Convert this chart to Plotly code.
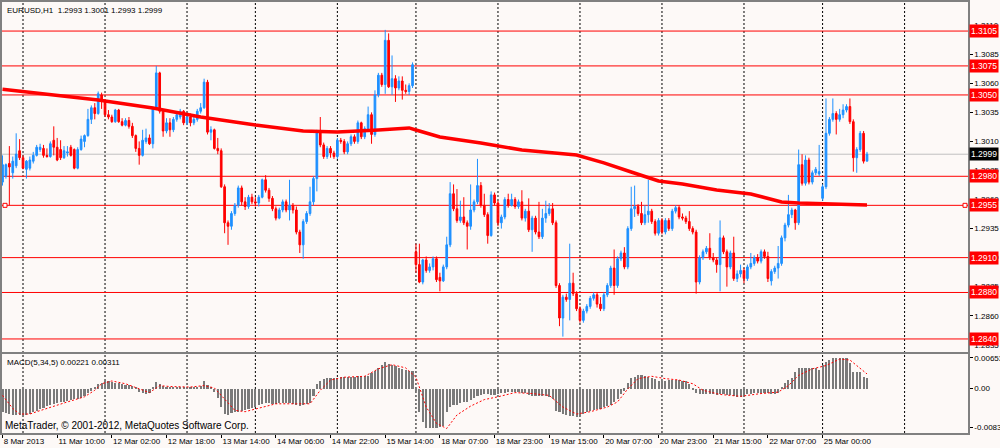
import plotly.graph_objects as go

# ---------------- data ----------------
opens = [1.2975,1.2980,1.2991,1.2983,1.2989,1.3002,1.2996,1.2986,1.2987,1.2993,
1.2998,1.3003,1.3004,1.2998,1.2997,1.3011,1.3005,1.3003,1.2996,1.3000,
1.3005,1.3003,1.2987,1.3003,1.3010,1.3015,1.3029,1.3039,1.3034,1.3050,
1.3045,1.3033,1.3031,1.3027,1.3037,1.3027,1.3024,1.3028,1.3023,1.3015,
1.3004,1.2998,1.3010,1.3013,1.3008,1.3038,1.3069,1.3036,1.3019,1.3026,
1.3020,1.3029,1.3031,1.3036,1.3026,1.3031,1.3026,1.3029,1.3036,1.3039,
1.3061,1.3018,1.3020,1.3004,1.3002,1.2971,1.2940,1.2937,1.2948,1.2955,
1.2970,1.2958,1.2954,1.2962,1.2958,1.2957,1.2962,1.2977,1.2968,1.2961,
1.2952,1.2944,1.2951,1.2958,1.2951,1.2955,1.2951,1.2932,1.2921,1.2941,
1.2948,1.2958,1.2978,1.3018,1.3007,1.2997,1.3004,1.3000,1.2997,1.3011,
1.3010,1.3001,1.3008,1.3014,1.3010,1.3026,1.3014,1.3021,1.3033,1.3016,
1.3050,1.3067,1.3059,1.3097,1.3057,1.3064,1.3056,1.3062,1.3054,1.3053,
1.3058,1.2915,1.2904,1.2889,1.2908,1.2899,1.2902,1.2909,1.2893,1.2890,
1.2902,1.2921,1.2965,1.2952,1.2942,1.2945,1.2940,1.2937,1.2951,1.2958,
1.2972,1.2955,1.2947,1.2929,1.2964,1.2957,1.2940,1.2945,1.2960,1.2955,
1.2960,1.2954,1.2958,1.2944,1.2950,1.2934,1.2944,1.2932,1.2928,1.2944,
1.2948,1.2952,1.2940,1.2886,1.2858,1.2876,1.2874,1.2888,1.2879,1.2866,
1.2856,1.2864,1.2868,1.2875,1.2878,1.2870,1.2866,1.2878,1.2886,1.2901,
1.2886,1.2909,1.2914,1.2902,1.2935,1.2952,1.2954,1.2948,1.2940,1.2947,
1.2950,1.2941,1.2931,1.2942,1.2932,1.2942,1.2935,1.2950,1.2953,1.2945,
1.2944,1.2941,1.2935,1.2932,1.2889,1.2910,1.2915,1.2918,1.2910,1.2908,
1.2904,1.2927,1.2915,1.2902,1.2914,1.2892,1.2896,1.2899,1.2892,1.2902,
1.2905,1.2910,1.2907,1.2915,1.2911,1.2890,1.2898,1.2901,1.2905,1.2927,
1.2938,1.2947,1.2951,1.2940,1.2990,1.2974,1.2994,1.2975,1.2983,1.2982,
1.2961,1.2971,1.3017,1.3029,1.3034,1.3029,1.3033,1.3037,1.3040,1.3027,
1.2996,1.3003,1.3017,1.2993]
highs = [1.2998,1.2991,1.3006,1.2997,1.3017,1.3012,1.2998,1.2994,1.2997,1.3001,
1.3007,1.3008,1.3007,1.3004,1.3010,1.3023,1.3013,1.3011,1.3006,1.3006,
1.3007,1.3004,1.3005,1.3015,1.3016,1.3038,1.3041,1.3043,1.3053,1.3052,
1.3046,1.3037,1.3033,1.3038,1.3038,1.3030,1.3030,1.3031,1.3026,1.3016,
1.3010,1.3020,1.3021,1.3016,1.3040,1.3075,1.3070,1.3037,1.3030,1.3030,
1.3031,1.3035,1.3038,1.3037,1.3034,1.3034,1.3033,1.3038,1.3043,1.3064,
1.3063,1.3023,1.3021,1.3013,1.3004,1.2973,1.2942,1.2950,1.2957,1.2972,
1.2972,1.2962,1.2964,1.2965,1.2962,1.2964,1.2978,1.2981,1.2970,1.2963,
1.2954,1.2953,1.2960,1.2960,1.2977,1.2957,1.2954,1.2934,1.2943,1.2950,
1.2971,1.2980,1.3020,1.3031,1.3009,1.3006,1.3006,1.3002,1.3013,1.3013,
1.3012,1.3010,1.3016,1.3016,1.3028,1.3027,1.3023,1.3040,1.3035,1.3054,
1.3069,1.3069,1.3106,1.3103,1.3084,1.3067,1.3066,1.3066,1.3059,1.3060,
1.3078,1.2922,1.2922,1.2909,1.2911,1.2905,1.2911,1.2911,1.2897,1.2904,
1.2928,1.2975,1.2973,1.2969,1.2959,1.2962,1.2942,1.2973,1.2960,1.2995,
1.2975,1.2965,1.2949,1.2967,1.2966,1.2959,1.2947,1.2962,1.2965,1.2965,
1.2962,1.2960,1.2968,1.2952,1.2961,1.2946,1.2946,1.2958,1.2952,1.2959,
1.2957,1.2957,1.2942,1.2888,1.2878,1.2879,1.2922,1.2897,1.2881,1.2868,
1.2866,1.2870,1.2877,1.2880,1.2880,1.2876,1.2880,1.2888,1.2903,1.2917,
1.2911,1.2916,1.2919,1.2937,1.2971,1.2972,1.2956,1.2958,1.2955,1.2977,
1.2952,1.2943,1.2944,1.2944,1.2944,1.2944,1.2952,1.2955,1.2955,1.2948,
1.2946,1.2950,1.2937,1.2934,1.2912,1.2917,1.2920,1.2931,1.2914,1.2910,
1.2942,1.2929,1.2917,1.2916,1.2928,1.2899,1.2904,1.2901,1.2904,1.2914,
1.2912,1.2913,1.2917,1.2917,1.2915,1.2900,1.2903,1.2920,1.2929,1.2940,
1.2964,1.2953,1.2952,1.3003,1.2999,1.2998,1.2996,1.2985,1.2988,1.3007,
1.2973,1.3047,1.3031,1.3047,1.3036,1.3038,1.3042,1.3042,1.3047,1.3029,
1.3005,1.3019,1.3019,1.3001]
lows = [1.2972,1.2978,1.2955,1.2978,1.2987,1.2994,1.2986,1.2978,1.2985,1.2991,
1.2997,1.3001,1.2996,1.2996,1.2996,1.2998,1.2993,1.2994,1.2995,1.2997,
1.2997,1.2986,1.2986,1.3002,1.3005,1.3014,1.3025,1.3029,1.3033,1.3038,
1.3031,1.3029,1.3026,1.3026,1.3026,1.3023,1.3023,1.3021,1.3013,1.3001,
1.2990,1.2997,1.3008,1.3007,1.3004,1.3037,1.3034,1.3014,1.3017,1.3014,
1.3018,1.3027,1.3029,1.3024,1.3024,1.3023,1.3024,1.3027,1.3034,1.3038,
1.3016,1.3011,1.3003,1.2999,1.2970,1.2931,1.2921,1.2934,1.2946,1.2953,
1.2955,1.2951,1.2952,1.2956,1.2954,1.2954,1.2961,1.2966,1.2958,1.2950,
1.2942,1.2943,1.2949,1.2949,1.2942,1.2948,1.2930,1.2914,1.2909,1.2939,
1.2946,1.2955,1.2967,1.3005,1.2995,1.2995,1.2996,1.2995,1.2995,1.3008,
1.2999,1.2999,1.3006,1.3008,1.3008,1.3012,1.3012,1.3019,1.3008,1.3014,
1.3048,1.3057,1.3051,1.3056,1.3050,1.3044,1.3054,1.3046,1.3051,1.3050,
1.3056,1.2897,1.2888,1.2887,1.2897,1.2897,1.2899,1.2889,1.2881,1.2889,
1.2900,1.2919,1.2950,1.2940,1.2940,1.2938,1.2917,1.2934,1.2949,1.2956,
1.2953,1.2945,1.2922,1.2928,1.2955,1.2937,1.2935,1.2943,1.2953,1.2954,
1.2952,1.2952,1.2942,1.2941,1.2932,1.2915,1.2930,1.2926,1.2926,1.2940,
1.2946,1.2938,1.2884,1.2851,1.2842,1.2872,1.2856,1.2877,1.2864,1.2854,
1.2854,1.2862,1.2866,1.2873,1.2867,1.2864,1.2864,1.2876,1.2884,1.2878,
1.2884,1.2907,1.2900,1.2900,1.2933,1.2945,1.2946,1.2938,1.2938,1.2940,
1.2939,1.2929,1.2929,1.2930,1.2930,1.2933,1.2933,1.2948,1.2943,1.2942,
1.2939,1.2933,1.2930,1.2879,1.2887,1.2908,1.2913,1.2908,1.2906,1.2897,
1.2881,1.2913,1.2885,1.2900,1.2890,1.2889,1.2893,1.2888,1.2890,1.2900,
1.2903,1.2905,1.2905,1.2909,1.2889,1.2886,1.2896,1.2892,1.2903,1.2924,
1.2936,1.2944,1.2934,1.2938,1.2972,1.2972,1.2973,1.2973,1.2981,1.2980,
1.2959,1.2969,1.3015,1.3027,1.3016,1.3027,1.3030,1.3035,1.3025,1.2984,
1.2983,1.3001,1.2991,1.2993]
closes = [1.2990,1.2990,1.2988,1.2993,1.2999,1.2996,1.2987,1.2993,1.2994,1.2998,
1.3005,1.3005,1.2998,1.2997,1.3008,1.3005,1.2994,1.2996,1.3002,1.3001,
1.2998,1.2987,1.3003,1.3012,1.3015,1.3029,1.3039,1.3034,1.3051,1.3045,
1.3033,1.3031,1.3027,1.3037,1.3027,1.3024,1.3028,1.3023,1.3015,1.3004,
1.2998,1.3011,1.3013,1.3008,1.3038,1.3069,1.3036,1.3019,1.3026,1.3020,
1.3029,1.3033,1.3036,1.3026,1.3031,1.3026,1.3029,1.3036,1.3039,1.3061,
1.3018,1.3020,1.3004,1.3002,1.2971,1.2940,1.2937,1.2948,1.2955,1.2970,
1.2958,1.2954,1.2962,1.2958,1.2957,1.2962,1.2977,1.2968,1.2961,1.2952,
1.2944,1.2951,1.2958,1.2951,1.2955,1.2951,1.2932,1.2921,1.2941,1.2948,
1.2958,1.2978,1.3018,1.3007,1.2997,1.3004,1.3000,1.2997,1.3011,1.3010,
1.3001,1.3008,1.3014,1.3010,1.3026,1.3014,1.3021,1.3033,1.3016,1.3050,
1.3067,1.3059,1.3097,1.3057,1.3064,1.3056,1.3062,1.3054,1.3053,1.3058,
1.3076,1.2904,1.2889,1.2908,1.2899,1.2902,1.2909,1.2891,1.2890,1.2902,
1.2921,1.2965,1.2952,1.2942,1.2945,1.2940,1.2937,1.2951,1.2958,1.2972,
1.2955,1.2947,1.2929,1.2964,1.2957,1.2940,1.2945,1.2960,1.2955,1.2960,
1.2954,1.2958,1.2944,1.2950,1.2934,1.2944,1.2932,1.2928,1.2944,1.2948,
1.2952,1.2940,1.2886,1.2858,1.2876,1.2874,1.2888,1.2879,1.2866,1.2856,
1.2864,1.2868,1.2875,1.2878,1.2870,1.2866,1.2878,1.2886,1.2901,1.2886,
1.2909,1.2914,1.2902,1.2935,1.2952,1.2954,1.2948,1.2940,1.2947,1.2950,
1.2941,1.2931,1.2942,1.2932,1.2942,1.2935,1.2950,1.2953,1.2945,1.2944,
1.2941,1.2935,1.2932,1.2889,1.2910,1.2915,1.2918,1.2910,1.2908,1.2904,
1.2927,1.2915,1.2902,1.2914,1.2892,1.2896,1.2899,1.2892,1.2902,1.2905,
1.2910,1.2907,1.2915,1.2911,1.2892,1.2898,1.2901,1.2905,1.2927,1.2938,
1.2947,1.2951,1.2940,1.2990,1.2974,1.2994,1.2975,1.2983,1.2986,1.2984,
1.2971,1.3017,1.3029,1.3034,1.3029,1.3033,1.3037,1.3040,1.3027,1.2996,
1.3003,1.3017,1.2993,1.2999]

# moving average (read at sample bars)
ma_idx = [0, 28, 44, 58, 66, 74, 88, 98, 110, 119, 121, 128, 140, 152, 168, 176,
          184, 192, 199, 209, 219, 228, 233, 245, 253]
ma_vals = [1.30550, 1.30457, 1.30388, 1.30310, 1.30276, 1.30241, 1.30190, 1.30181,
           1.30198, 1.30216, 1.30198, 1.30138, 1.30087, 1.30026, 1.29983, 1.29915,
           1.29837, 1.29760, 1.29734, 1.29682, 1.29648, 1.29579, 1.29570, 1.29562,
           1.29553]

# MACD(5,34,5) histogram, one value per bar
macd = [-0.0050,-0.0053,-0.0055,-0.0057,-0.0057,-0.0057,-0.0057,-0.0056,-0.0054,-0.0050,
-0.0047,-0.0044,-0.0041,-0.0038,-0.0034,-0.0032,-0.0030,-0.0029,-0.0028,-0.0026,
-0.0024,-0.0023,-0.0021,-0.0019,-0.0016,-0.0010,-0.0004,0.0004,0.0010,0.0013,
0.0016,0.0016,0.0014,0.0013,0.0012,0.0010,0.0009,0.0007,0.0005,0.0002,
-0.0006,-0.0009,-0.0011,-0.0010,0.0003,0.0014,0.0010,0.0006,0.0004,0.0003,
0.0003,0.0004,0.0003,0.0003,0.0003,0.0002,0.0003,0.0004,0.0006,0.0016,
0.0007,0.0002,-0.0008,-0.0020,-0.0040,-0.0054,-0.0057,-0.0053,-0.0051,-0.0049,
-0.0047,-0.0045,-0.0044,-0.0042,-0.0039,-0.0036,-0.0032,-0.0030,-0.0031,-0.0032,
-0.0032,-0.0031,-0.0030,-0.0030,-0.0031,-0.0033,-0.0035,-0.0037,-0.0036,-0.0033,
-0.0031,-0.0015,0.0011,0.0017,0.0020,0.0022,0.0023,0.0023,0.0024,0.0025,
0.0025,0.0026,0.0026,0.0026,0.0027,0.0027,0.0027,0.0028,0.0033,0.0039,
0.0045,0.0050,0.0057,0.0054,0.0051,0.0048,0.0045,0.0042,0.0040,0.0038,
0.0037,-0.0004,-0.0050,-0.0072,-0.0084,-0.0084,-0.0084,-0.0084,-0.0083,-0.0079,
-0.0050,-0.0040,-0.0036,-0.0034,-0.0031,-0.0029,-0.0028,-0.0024,-0.0019,-0.0016,
-0.0013,-0.0011,-0.0012,-0.0013,-0.0014,-0.0012,-0.0010,-0.0009,-0.0008,-0.0007,
-0.0006,-0.0007,-0.0009,-0.0010,-0.0013,-0.0015,-0.0015,-0.0016,-0.0015,-0.0015,
-0.0017,-0.0022,-0.0047,-0.0050,-0.0054,-0.0056,-0.0058,-0.0059,-0.0060,-0.0058,
-0.0054,-0.0050,-0.0048,-0.0046,-0.0044,-0.0043,-0.0040,-0.0037,-0.0034,-0.0028,
-0.0022,-0.0012,-0.0004,0.0013,0.0022,0.0026,0.0030,0.0029,0.0028,0.0026,
0.0023,0.0020,0.0017,0.0016,0.0017,0.0018,0.0018,0.0018,0.0018,0.0017,
0.0017,0.0010,-0.0002,-0.0010,-0.0011,-0.0011,-0.0011,-0.0012,-0.0012,-0.0013,
-0.0012,-0.0012,-0.0013,-0.0014,-0.0016,-0.0018,-0.0017,-0.0015,-0.0012,-0.0011,
-0.0010,-0.0010,-0.0010,-0.0010,-0.0010,-0.0011,-0.0011,-0.0009,0.0003,0.0013,
0.0018,0.0024,0.0035,0.0045,0.0045,0.0045,0.0045,0.0045,0.0045,0.0040,
0.0051,0.0058,0.0062,0.0065,0.0065,0.0065,0.0065,0.0065,0.0056,0.0036,
0.0036,0.0036,0.0026,0.0022]

# MACD signal line (read at sample bars)
sig_idx = [0,3,5,8,10,14,19,24,27,29,32,36,40,43,46,49,55,59,62,65,68,71,75,80,86,90,
           93,96,100,106,110,114,118,121,124,127,130,133,137,141,145,150,155,160,164,
           168,172,177,180,183,186,190,194,198,202,205,210,216,222,227,230,233,237,
           241,245,248,250,253]
sig_vals = [-0.0015,-0.0043,-0.0055,-0.0055,-0.0050,-0.0040,-0.0029,-0.0018,-0.0004,
            0.0010,0.0016,0.0010,-0.0001,-0.0009,0.0006,0.0004,0.0003,0.0006,0.0001,
            -0.0022,-0.0047,-0.0050,-0.0043,-0.0033,-0.0033,-0.0033,-0.0004,0.0018,
            0.0024,0.0026,0.0042,0.0051,0.0044,0.0024,-0.0040,-0.0075,-0.0086,-0.0057,
            -0.0038,-0.0024,-0.0018,-0.0009,-0.0011,-0.0015,-0.0040,-0.0055,-0.0050,
            -0.0040,-0.0029,-0.0001,0.0021,0.0026,0.0021,0.0018,0.0010,-0.0004,-0.0013,
            -0.0017,-0.0011,-0.0008,0.0006,0.0028,0.0042,0.0049,0.0063,0.0061,0.0049,
            0.00311]

time_tick_idx = [0,16,32,48,64,80,96,112,128,144,160,176,192,208,224,240]
time_labels = ["8 Mar 2013","11 Mar 10:00","12 Mar 02:00","12 Mar 18:00","13 Mar 14:00",
               "14 Mar 06:00","14 Mar 22:00","15 Mar 14:00","18 Mar 07:00","18 Mar 23:00",
               "19 Mar 15:00","20 Mar 07:00","20 Mar 23:00","21 Mar 15:00","22 Mar 07:00",
               "25 Mar 00:00"]
day_start_idx = [6,30,54,74,98,121,145,169,193,217,240,264]

price_ticks = [1.3110,1.3085,1.3060,1.3035,1.3010,1.2985,1.2960,1.2935,1.2910,1.2885,1.2860,1.2835]
level_lines = [1.3105,1.3075,1.3050,1.2980,1.2955,1.2910,1.2880,1.2840]
bid_price = 1.2999
macd_ticks = [0.00653, 0.0, -0.00837]
macd_tick_text = ["0.00653", "0.00", "-0.00837"]

title_text = "EURUSD,H1  1.2993 1.3001 1.2993 1.2999"
macd_text = "MACD(5,34,5) 0.00221 0.00311"
copyright_text = "MetaTrader, \u00a9 2001-2012, MetaQuotes Software Corp."

# ---------------- figure ----------------
FONT = "Liberation Sans"
BG = "#FDF9F7"
FRAME = "#808080"
n = len(closes)
idx = list(range(n))
xr = [-0.15, 282.56]

fig = go.Figure()
fig.add_trace(go.Candlestick(
    x=idx, open=opens, high=highs, low=lows, close=closes,
    increasing=dict(line=dict(color="#1E90FF", width=1), fillcolor="#1E90FF"),
    decreasing=dict(line=dict(color="#FF0000", width=1), fillcolor="#FF0000"),
    whiskerwidth=0, xaxis="x", yaxis="y", showlegend=False, hoverinfo="skip"))
fig.add_trace(go.Scatter(x=ma_idx, y=ma_vals, mode="lines",
                         line=dict(color="#FF0000", width=3.5), xaxis="x", yaxis="y",
                         showlegend=False, hoverinfo="skip"))
fig.add_trace(go.Bar(x=idx, y=macd, marker=dict(color="#7A7A7A", line=dict(width=0)),
                     width=0.62, xaxis="x2", yaxis="y2", showlegend=False, hoverinfo="skip"))
fig.add_trace(go.Scatter(x=sig_idx, y=sig_vals, mode="lines",
                         line=dict(color="#FF0000", width=1, dash="2px,2px"),
                         xaxis="x2", yaxis="y2", showlegend=False, hoverinfo="skip"))

shapes = []
for d in day_start_idx:
    shapes.append(dict(type="line", xref="x", yref="paper", x0=d, x1=d, y0=0, y1=1,
                       line=dict(color="black", width=1, dash="2px,2px"), layer="below"))
for lv in level_lines:
    shapes.append(dict(type="line", xref="paper", yref="y", x0=0, x1=1, y0=lv, y1=lv,
                       line=dict(color="#FF0000", width=1), layer="below"))
shapes.append(dict(type="line", xref="paper", yref="y", x0=0, x1=1, y0=bid_price, y1=bid_price,
                   line=dict(color="#C0C0C0", width=1), layer="below"))
for xa in (0, 1):
    shapes.append(dict(type="rect", xref="paper", yref="y", xsizemode="pixel", ysizemode="pixel",
                       xanchor=xa, yanchor=1.2955,
                       x0=(1 if xa == 0 else -5), x1=(5 if xa == 0 else -1), y0=-2, y1=2,
                       line=dict(color="#FF0000", width=1), fillcolor="white"))

LBL = 8.5
annotations = []
for lv in level_lines:
    annotations.append(dict(xref="paper", yref="y", x=1, y=lv, xanchor="left", yanchor="middle",
                            xshift=1, text=f"{lv:.4f}", showarrow=False, bgcolor="#FF0000",
                            borderpad=1, font=dict(family=FONT, size=LBL, color="white")))
annotations.append(dict(xref="paper", yref="y", x=1, y=bid_price, xanchor="left", yanchor="middle",
                        xshift=1, text=f"{bid_price:.4f}", showarrow=False, bgcolor="black",
                        borderpad=1, font=dict(family=FONT, size=LBL, color="white")))
annotations.append(dict(xref="paper", yref="paper", x=0, y=1, xanchor="left", yanchor="top",
                        xshift=3, yshift=-2, text=title_text, showarrow=False,
                        font=dict(family=FONT, size=8, color="black")))
annotations.append(dict(xref="paper", yref="paper", x=0, y=0.184, xanchor="left", yanchor="top",
                        xshift=3, yshift=-2, text=macd_text, showarrow=False,
                        font=dict(family=FONT, size=8, color="black")))
annotations.append(dict(xref="paper", yref="paper", x=0, y=0, xanchor="left", yanchor="bottom",
                        xshift=1, yshift=0, text=copyright_text, showarrow=False,
                        font=dict(family=FONT, size=10, color="black")))

axis_common = dict(showgrid=False, zeroline=False, showline=True, mirror=True,
                   linecolor=FRAME, linewidth=1.5, automargin=False)

fig.update_layout(
    width=1000, height=448,
    margin=dict(l=2, r=32, t=2, b=15),
    paper_bgcolor=BG, plot_bgcolor=BG,
    font=dict(family=FONT, size=8, color="black"),
    xaxis=dict(domain=[0, 1], range=xr, anchor="y", showticklabels=False,
               rangeslider=dict(visible=False), ticks="", **axis_common),
    yaxis=dict(domain=[0.188, 1], range=[1.28288, 1.31300], side="right", anchor="x",
               tickvals=price_ticks, ticktext=[f"{p:.4f}" for p in price_ticks],
               ticks="outside", ticklen=3, tickcolor="black",
               tickfont=dict(family=FONT, size=8, color="black"), **axis_common),
    xaxis2=dict(domain=[0, 1], range=xr, anchor="y2", tickvals=time_tick_idx,
                ticktext=time_labels, ticks="outside", ticklen=3, tickcolor="black",
                tickangle=0, ticklabelposition="outside right",
                tickfont=dict(family=FONT, size=8, color="black"), **axis_common),
    yaxis2=dict(domain=[0, 0.184], range=[-0.00957, 0.00745], side="right", anchor="x2",
                tickvals=macd_ticks, ticktext=macd_tick_text,
                ticks="outside", ticklen=3, tickcolor="black",
                tickfont=dict(family=FONT, size=8, color="black"), **axis_common),
    shapes=shapes, annotations=annotations, bargap=0,
)

fig.write_html("out.html", config={"displayModeBar": False},
               post_script="document.body.style.margin='0';document.body.style.padding='0';"
                           "document.body.style.background='" + BG + "';")
